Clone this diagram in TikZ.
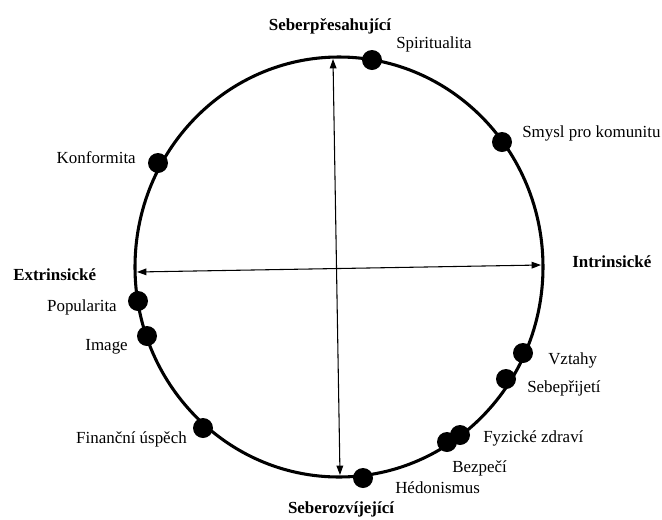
\documentclass[tikz,border=0pt]{standalone}
\usepackage{fontspec}
\setmainfont{Liberation Serif}
\usetikzlibrary{arrows.meta}
\tikzset{
  every node/.style={font=\fontsize{12.7}{15}\selectfont, inner sep=0pt},
  bod/.style={circle, fill=black, minimum size=15pt},
  osa/.style={{Triangle[length=7pt,width=5pt]}-{Triangle[length=7pt,width=5pt]}, line width=0.8pt},
  nadpis/.style={font=\fontsize{12.7}{15}\selectfont\bfseries}
}

\begin{document}
\begin{tikzpicture}[x=0.75pt,y=-0.75pt]
  \useasboundingbox (0,0) rectangle (662,519);
  \coordinate (stred) at (339,267);
  \draw[line width=2.3pt] (stred) ellipse [x radius=204, y radius=210];
  % osy
  \coordinate (horni) at (333,59);
  \coordinate (dolni) at (340,475);
  \coordinate (leva) at (137,272);
  \coordinate (prava) at (541,265);
  \draw[osa] (horni) -- (dolni);
  \draw[osa] (leva) -- (prava);
  % hodnoty na kruhu
  \foreach \jm/\x/\y in {spir/372/60, smysl/502/142, konf/158/163, popul/138/301,
      image/147/336, vztahy/523/353, sebep/506/379, bezp/447/442, fyz/460/435,
      hedon/363/478, financ/203/428}
    \node[bod] (\jm) at (\x,\y) {};
  % popisky
  \node[nadpis, anchor=base] (tsebpr) at (330,30) {Seberpřesahující};
  \node[nadpis, anchor=base] (tsebroz) at (341,513) {Seberozvíjející};
  \node[nadpis, anchor=base west] (textr) at (13,280) {Extrinsické};
  \node[nadpis, anchor=base west] (tintr) at (572,267) {Intrinsické};
  \node[anchor=base west] (tspir) at (396,48) {Spiritualita};
  \node[anchor=base west] (tsmysl) at (522,137) {Smysl pro komunitu};
  \node[anchor=base east] (tkonf) at (136,163) {Konformita};
  \node[anchor=base east] (tpopul) at (117,311) {Popularita};
  \node[anchor=base east] (timage) at (128,350) {Image};
  \node[anchor=base west] (tvztahy) at (548,364) {Vztahy};
  \node[anchor=base west] (tsebep) at (527,392) {Sebepřijetí};
  \node[anchor=base west] (tfyz) at (483,442) {Fyzické zdraví};
  \node[anchor=base west] (tbezp) at (452,472) {Bezpečí};
  \node[anchor=base west] (thedon) at (395,493) {Hédonismus};
  \node[anchor=base east] (tfinanc) at (187,443) {Finanční úspěch};
\end{tikzpicture}
\end{document}
